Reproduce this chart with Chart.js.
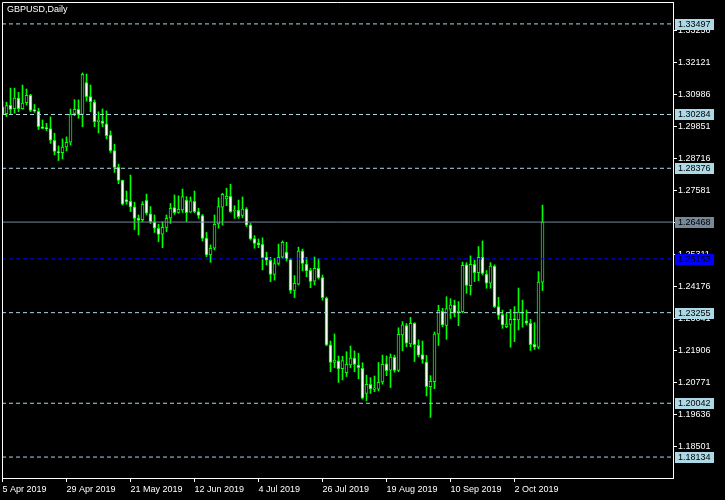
<!DOCTYPE html>
<html>
<head>
<meta charset="utf-8">
<title>GBPUSD,Daily</title>
<script src="https://cdn.jsdelivr.net/npm/chart.js@4.4.1/dist/chart.umd.min.js"></script>
<style>
    html, body { margin: 0; padding: 0; background: #000; }
    #chart { display: block; background: #000; }
</style>
</head>
<body>
<canvas id="chart" width="725" height="500"></canvas>
<script>
// Data harian GBPUSD, satu nilai per bar
const opens = [
    1.3056, 1.3031, 1.3061, 1.3049, 1.3087, 1.3049, 1.3070, 1.3096, 1.3046, 1.3040,
    1.2985, 1.2980, 1.2978, 1.2937, 1.2897, 1.2893, 1.2913, 1.2930, 1.3032, 1.3047,
    1.3029, 1.3142, 1.3092, 1.3072, 1.3003, 1.3005, 1.2995, 1.2955, 1.2900, 1.2841,
    1.2795, 1.2727, 1.2720, 1.2701, 1.2661, 1.2655, 1.2724, 1.2676, 1.2648, 1.2625,
    1.2604, 1.2628, 1.2662, 1.2698, 1.2681, 1.2690, 1.2725, 1.2682, 1.2720, 1.2684,
    1.2670, 1.2590, 1.2530, 1.2554, 1.2640, 1.2700, 1.2729, 1.2738, 1.2686, 1.2689,
    1.2670, 1.2693, 1.2636, 1.2588, 1.2573, 1.2568, 1.2522, 1.2511, 1.2461, 1.2500,
    1.2522, 1.2540, 1.2514, 1.2404, 1.2427, 1.2544, 1.2498, 1.2476, 1.2437, 1.2483,
    1.2450, 1.2377, 1.2211, 1.2149, 1.2155, 1.2127, 1.2113, 1.2140, 1.2164, 1.2140,
    1.2128, 1.2039, 1.2071, 1.2053, 1.2054, 1.2080, 1.2144, 1.2122, 1.2167, 1.2121,
    1.2247, 1.2280, 1.2215, 1.2288, 1.2210, 1.2177, 1.2150, 1.2063, 1.2081, 1.2249,
    1.2330, 1.2280, 1.2338, 1.2352, 1.2325, 1.2329, 1.2495, 1.2421, 1.2497, 1.2467,
    1.2522, 1.2462, 1.2430, 1.2491, 1.2347, 1.2319, 1.2276, 1.2284, 1.2302, 1.2300,
    1.2327, 1.2297, 1.2288, 1.2213, 1.2203, 1.2434
];
const highs = [
    1.3076, 1.3072, 1.3122, 1.3122, 1.3107, 1.3133, 1.3119, 1.3100, 1.3064, 1.3050,
    1.3009, 1.2997, 1.3020, 1.2962, 1.2917, 1.2942, 1.2949, 1.3048, 1.3081, 1.3080,
    1.3176, 1.3172, 1.3133, 1.3080, 1.3038, 1.3048, 1.3041, 1.2970, 1.2923, 1.2852,
    1.2796, 1.2757, 1.2814, 1.2717, 1.2672, 1.2719, 1.2746, 1.2702, 1.2672, 1.2639,
    1.2648, 1.2672, 1.2713, 1.2743, 1.2740, 1.2764, 1.2737, 1.2736, 1.2757, 1.2696,
    1.2674, 1.2610, 1.2566, 1.2672, 1.2733, 1.2749, 1.2767, 1.2781, 1.2705, 1.2725,
    1.2736, 1.2698, 1.2642, 1.2599, 1.2587, 1.2591, 1.2540, 1.2522, 1.2518, 1.2569,
    1.2580, 1.2575, 1.2518, 1.2457, 1.2558, 1.2551, 1.2521, 1.2483, 1.2523, 1.2518,
    1.2459, 1.2381, 1.2225, 1.2250, 1.2172, 1.2171, 1.2187, 1.2207, 1.2190, 1.2182,
    1.2148, 1.2104, 1.2095, 1.2101, 1.2149, 1.2175, 1.2172, 1.2179, 1.2175, 1.2272,
    1.2294, 1.2287, 1.2309, 1.2290, 1.2229, 1.2225, 1.2174, 1.2102, 1.2257, 1.2352,
    1.2341, 1.2382, 1.2375, 1.2370, 1.2365, 1.2505, 1.2503, 1.2527, 1.2512, 1.2560,
    1.2580, 1.2475, 1.2503, 1.2495, 1.2380, 1.2335, 1.2323, 1.2337, 1.2347, 1.2413,
    1.2370, 1.2335, 1.2302, 1.2290, 1.2471, 1.2707
];
const lows = [
    1.3029, 1.3021, 1.3029, 1.3033, 1.3038, 1.3047, 1.3062, 1.3038, 1.3036, 1.2975,
    1.2978, 1.2971, 1.2926, 1.2885, 1.2865, 1.2871, 1.2899, 1.2920, 1.3024, 1.3015,
    1.2985, 1.3076, 1.3038, 1.2985, 1.2963, 1.2985, 1.2942, 1.2894, 1.2823, 1.2783,
    1.2707, 1.2710, 1.2684, 1.2620, 1.2601, 1.2648, 1.2672, 1.2642, 1.2610, 1.2577,
    1.2556, 1.2613, 1.2642, 1.2674, 1.2678, 1.2681, 1.2648, 1.2681, 1.2680, 1.2660,
    1.2580, 1.2524, 1.2504, 1.2548, 1.2625, 1.2636, 1.2705, 1.2681, 1.2660, 1.2660,
    1.2662, 1.2631, 1.2583, 1.2554, 1.2556, 1.2477, 1.2495, 1.2435, 1.2441, 1.2495,
    1.2518, 1.2509, 1.2394, 1.2379, 1.2424, 1.2474, 1.2453, 1.2414, 1.2424, 1.2445,
    1.2370, 1.2208, 1.2116, 1.2130, 1.2078, 1.2087, 1.2099, 1.2130, 1.2116, 1.2091,
    1.2019, 1.2013, 1.2039, 1.2045, 1.2048, 1.2072, 1.2102, 1.2060, 1.2114, 1.2116,
    1.2190, 1.2205, 1.2205, 1.2152, 1.2169, 1.2146, 1.2030, 1.1954, 1.2056, 1.2209,
    1.2276, 1.2231, 1.2305, 1.2311, 1.2279, 1.2325, 1.2394, 1.2388, 1.2436, 1.2439,
    1.2459, 1.2412, 1.2412, 1.2343, 1.2302, 1.2270, 1.2272, 1.2203, 1.2223, 1.2264,
    1.2274, 1.2282, 1.2191, 1.2195, 1.2198, 1.2404
];
const closes = [
    1.3031, 1.3060, 1.3046, 1.3087, 1.3049, 1.3069, 1.3096, 1.3043, 1.3040, 1.2985,
    1.2979, 1.2978, 1.2937, 1.2897, 1.2893, 1.2913, 1.2930, 1.3029, 1.3047, 1.3029,
    1.3171, 1.3092, 1.3074, 1.3003, 1.3009, 1.2997, 1.2953, 1.2900, 1.2841, 1.2795,
    1.2710, 1.2719, 1.2701, 1.2660, 1.2653, 1.2710, 1.2678, 1.2648, 1.2625, 1.2603,
    1.2628, 1.2660, 1.2696, 1.2680, 1.2692, 1.2737, 1.2680, 1.2722, 1.2684, 1.2670,
    1.2589, 1.2530, 1.2554, 1.2639, 1.2702, 1.2745, 1.2738, 1.2684, 1.2689, 1.2666,
    1.2693, 1.2636, 1.2587, 1.2571, 1.2566, 1.2521, 1.2512, 1.2461, 1.2500, 1.2522,
    1.2575, 1.2516, 1.2404, 1.2430, 1.2544, 1.2500, 1.2474, 1.2436, 1.2483, 1.2450,
    1.2379, 1.2211, 1.2149, 1.2157, 1.2126, 1.2156, 1.2142, 1.2164, 1.2142, 1.2130,
    1.2022, 1.2071, 1.2055, 1.2059, 1.2078, 1.2142, 1.2120, 1.2168, 1.2121, 1.2249,
    1.2282, 1.2217, 1.2288, 1.2212, 1.2175, 1.2160, 1.2063, 1.2082, 1.2250, 1.2334,
    1.2282, 1.2340, 1.2352, 1.2324, 1.2331, 1.2493, 1.2422, 1.2497, 1.2467, 1.2522,
    1.2465, 1.2430, 1.2491, 1.2347, 1.2317, 1.2282, 1.2285, 1.2302, 1.2300, 1.2327,
    1.2324, 1.2288, 1.2212, 1.2203, 1.2434, 1.2647
];

// Label waktu di sumbu bawah (indeks bar dan teksnya)
const dateTickBars = [0, 16, 32, 48, 64, 80, 96, 112, 128];
const dateLabels = ['5 Apr 2019', '29 Apr 2019', '21 May 2019', '12 Jun 2019', '4 Jul 2019',
    '26 Jul 2019', '19 Aug 2019', '10 Sep 2019', '2 Oct 2019'];

// Skala harga di kanan
const priceTicks = [1.33256, 1.32121, 1.30986, 1.29851, 1.28716, 1.27581, 1.26446,
    1.25311, 1.24176, 1.23041, 1.21906, 1.20771, 1.19636, 1.18501];

// Garis horizontal (level)
const dashedLevels = [1.33497, 1.30284, 1.28376, 1.23255, 1.20042, 1.18134];
const solidLevel = 1.26468;
const blueLevel = 1.25163;

const X_MIN = -0.125, X_MAX = 167.625;
const Y_MIN = 1.17391, Y_MAX = 1.34274;
const FONT = { family: 'Liberation Sans, Arial, sans-serif', size: 9 };

document.addEventListener('DOMContentLoaded', () => {
    initializePriceChart();
});

/**
 * Membuat dataset garis horizontal dari satu level harga.
 */
function levelDataset(value, color, dash) {
    return {
        type: 'line',
        data: [{ x: X_MIN, y: value }, { x: X_MAX, y: value }],
        borderColor: color,
        borderWidth: 1,
        borderDash: dash,
        pointRadius: 0,
        order: 0
    };
}

/**
 * Ukuran sumbu dikunci supaya area grafik sama persis dengan gambar.
 */
function lockAxis(axis, size) {
    if (axis.isHorizontal()) axis.height = size;
    else axis.width = size;
    axis.paddingTop = 0;
    axis.paddingBottom = 0;
    axis.paddingLeft = 0;
    axis.paddingRight = 0;
}

function initializePriceChart() {
    const ctx = document.getElementById('chart').getContext('2d');

    const wicks = opens.map((o, i) => ({ x: i, y: [lows[i], highs[i]] }));
    const bodies = opens.map((o, i) => ({ x: i, y: [o, closes[i]] }));
    const bodyColors = opens.map((o, i) => closes[i] >= o ? '#000000' : '#ffffff');

    // Semua label harga berwarna (tag di sebelah kanan)
    const tags = dashedLevels.map(v => ({ value: v, bg: '#add8e6' }))
        .concat([{ value: solidLevel, bg: '#778899' }, { value: blueLevel, bg: '#0000ff' }]);

    const decorations = {
        id: 'decorations',
        afterDraw(chart) {
            const c = chart.ctx;
            const area = chart.chartArea;
            const yScale = chart.scales.y;
            c.save();
            // bingkai kiri dan atas
            c.strokeStyle = '#ffffff';
            c.lineWidth = 1;
            c.beginPath();
            c.moveTo(area.left + 0.5, area.bottom);
            c.lineTo(area.left + 0.5, area.top + 0.5);
            c.lineTo(area.right, area.top + 0.5);
            c.stroke();

            // judul
            c.font = FONT.size + 'px ' + FONT.family;
            c.fillStyle = '#ffffff';
            c.textBaseline = 'middle';
            c.textAlign = 'left';
            c.fillText('GBPUSD,Daily', 7, 10);

            // tag harga
            tags.forEach(t => {
                const y = Math.round(yScale.getPixelForValue(t.value));
                c.fillStyle = t.bg;
                c.fillRect(area.right + 2, y - 5, 39, 11);
                c.fillStyle = '#000000';
                c.fillText(t.value.toFixed(5), area.right + 5, y + 0.5);
            });
            c.restore();
        }
    };

    new Chart(ctx, {
        type: 'bar',
        data: {
            datasets: [
                ...dashedLevels.map(v => levelDataset(v, '#add8e6', [4, 3])),
                levelDataset(solidLevel, '#778899', []),
                levelDataset(blueLevel, '#0000ff', [4, 3]),
                {
                    data: bodies,
                    backgroundColor: bodyColors,
                    borderColor: '#00ff00',
                    borderWidth: 1,
                    borderSkipped: false,
                    barThickness: 3,
                    minBarLength: 1,
                    grouped: false,
                    order: 1
                },
                {
                    data: wicks,
                    backgroundColor: '#00ff00',
                    borderWidth: 0,
                    barThickness: 1,
                    grouped: false,
                    order: 2
                }
            ]
        },
        options: {
            responsive: false,
            animation: false,
            events: [],
            layout: { padding: { left: 2, top: 2, right: 0, bottom: 0 } },
            plugins: {
                legend: { display: false },
                tooltip: { enabled: false }
            },
            scales: {
                x: {
                    type: 'linear',
                    min: X_MIN,
                    max: X_MAX,
                    offset: false,
                    grid: { display: true, offset: false, drawOnChartArea: false, drawTicks: true, tickLength: 4, color: '#ffffff' },
                    border: { display: true, color: '#ffffff' },
                    afterBuildTicks: axis => { axis.ticks = dateTickBars.map(v => ({ value: v })); },
                    afterFit: axis => lockAxis(axis, 22),
                    ticks: {
                        autoSkip: false,
                        maxRotation: 0,
                        align: 'start',
                        padding: 2,
                        color: '#ffffff',
                        font: FONT,
                        callback: value => dateLabels[dateTickBars.indexOf(value)]
                    }
                },
                y: {
                    type: 'linear',
                    position: 'right',
                    min: Y_MIN,
                    max: Y_MAX,
                    grid: { display: true, drawOnChartArea: false, drawTicks: true, tickLength: 4, color: '#ffffff' },
                    border: { display: true, color: '#ffffff' },
                    afterBuildTicks: axis => { axis.ticks = priceTicks.map(v => ({ value: v })); },
                    afterFit: axis => lockAxis(axis, 52),
                    ticks: {
                        padding: 1,
                        color: '#ffffff',
                        font: FONT,
                        callback: value => value.toFixed(5)
                    }
                }
            }
        },
        plugins: [decorations]
    });
}
</script>
</body>
</html>
